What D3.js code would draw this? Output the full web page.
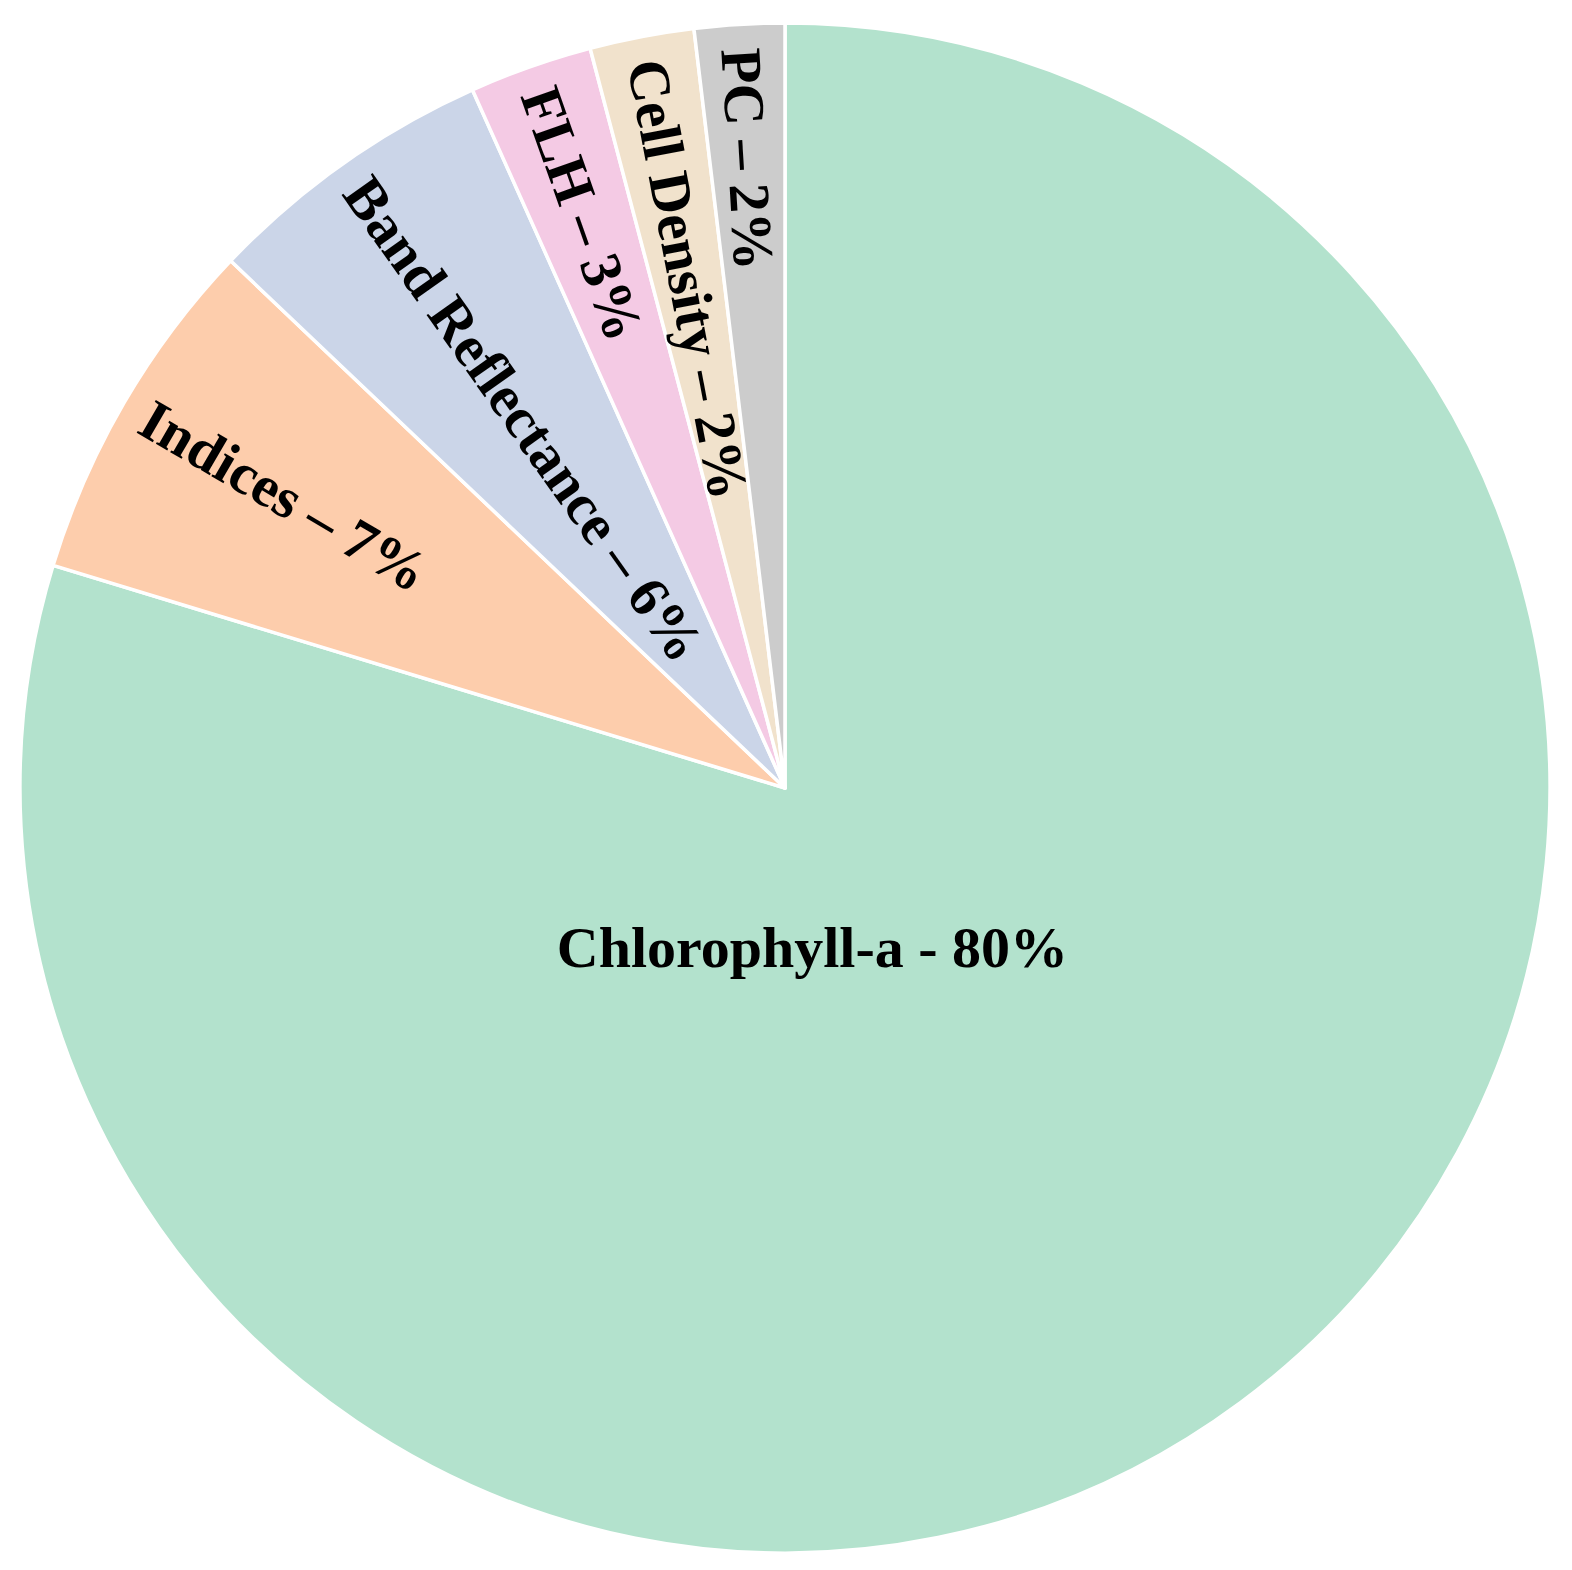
<!DOCTYPE html>
<html>
<head>
<meta charset="utf-8">
<script src="https://cdn.jsdelivr.net/npm/d3@7"></script>
<style>
  body { margin: 0; background: #fff; }
  text { font-family: "Liberation Serif", "Times New Roman", serif; font-weight: bold; fill: #000; }
</style>
</head>
<body>
<svg id="chart"></svg>
<script>
const categories = ["Chlorophyll-a", "Indices", "Band Reflectance", "FLH", "Cell Density", "PC"];
const shares = [79.7, 7.4, 6.2, 2.6, 2.2, 1.9];
const separators = ["-", "\u2013", "\u2013", "\u2013", "\u2013", "\u2013"];
const colours = ["#b3e2cd", "#fdcdac", "#cbd5e8", "#f4cae4", "#f1e2cc", "#cccccc"];

const width = 1572;
const height = 1570;
const cx = 785;
const cy = 788;
const radius = 765;
const fontSize = 58;

const svg = d3.select('#chart')
  .attr('width', width)
  .attr('height', height);

const g = svg.append('g')
  .attr('transform', `translate(${cx}, ${cy})`);

const rows = categories.map((c, i) => ({ name: c, value: shares[i], sep: separators[i] }));
const total = d3.sum(shares);

const pie = d3.pie()
  .sort(null)
  .value(d => d.value);

const arc = d3.arc()
  .innerRadius(0)
  .outerRadius(radius);

const colour = d3.scaleOrdinal()
  .domain(categories)
  .range(colours);

const slices = pie(rows);

g.selectAll('path.slice')
  .data(slices)
  .enter().append('path')
  .attr('class', 'slice')
  .attr('d', arc)
  .attr('fill', d => colour(d.data.name))
  .attr('stroke', '#fff')
  .attr('stroke-width', 3.5)
  .attr('stroke-linejoin', 'round');

// polar helper, angle clockwise from 12 o'clock
const polar = (a, r) => [r * Math.sin(a), -r * Math.cos(a)];
const deg = Math.PI / 180;

const labelText = d => `${d.data.name} ${d.data.sep} ${Math.round(d.data.value / total * 100)}%`;

// big slice: horizontal label, a bit below the centre
const big = slices[0];
const bigPos = polar((big.startAngle + big.endAngle) / 2 + 26.8 * deg, radius * 0.212);
g.append('text')
  .attr('x', bigPos[0])
  .attr('y', bigPos[1])
  .attr('text-anchor', 'middle')
  .attr('dominant-baseline', 'central')
  .style('font-size', fontSize + 'px')
  .text(labelText(big));

// small slices: radial labels reading inward from the rim
const small = slices.slice(1);
g.selectAll('text.radial')
  .data(small)
  .enter().append('text')
  .attr('class', 'radial')
  .attr('text-anchor', 'start')
  .attr('dominant-baseline', 'central')
  .style('font-size', fontSize + 'px')
  .attr('transform', d => {
    const mid = (d.startAngle + d.endAngle) / 2;
    const p = polar(mid, radius - 24);
    const rot = mid / deg - 270;
    return `translate(${p[0]}, ${p[1]}) rotate(${rot})`;
  })
  .text(labelText);
</script>
</body>
</html>
